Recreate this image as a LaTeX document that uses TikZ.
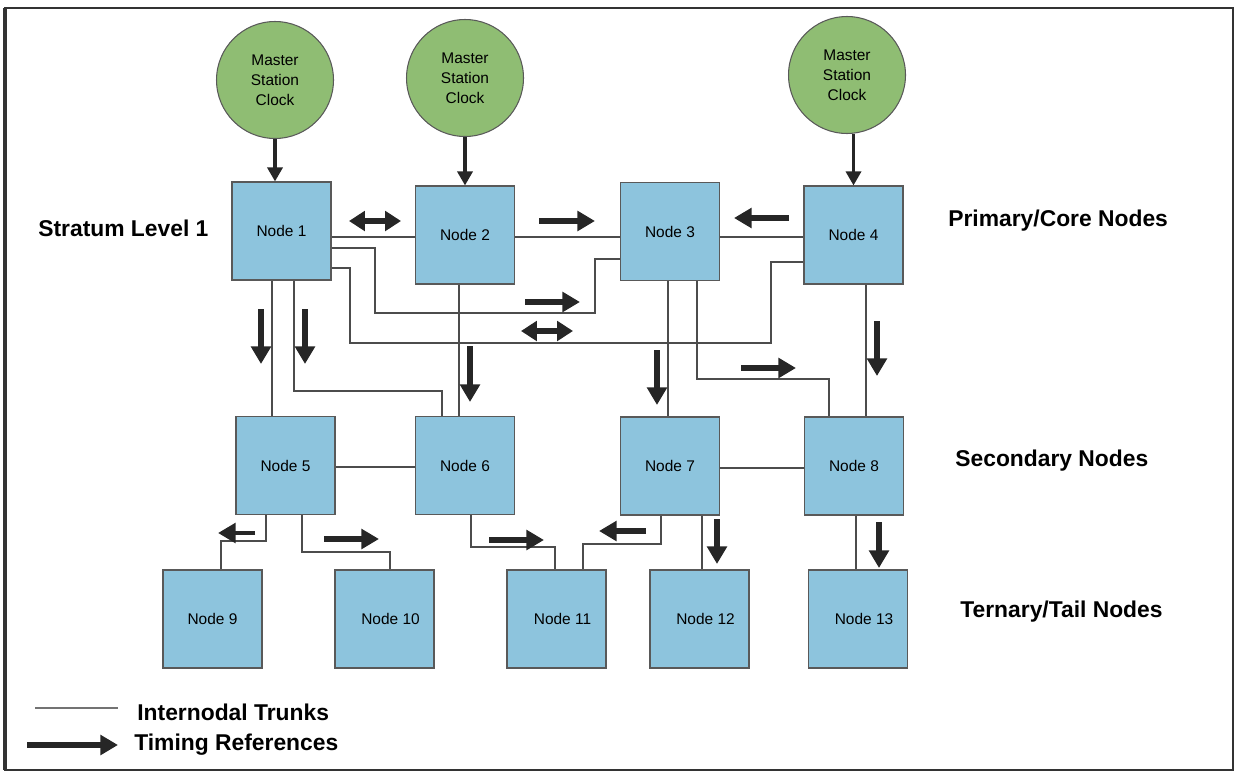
\documentclass[tikz,border=0pt]{standalone}
\usepackage{fontspec}
\setmainfont{Liberation Sans}
\usepackage{tikz}
\usetikzlibrary{arrows.meta}

\begin{document}
\begin{tikzpicture}[x=0.02cm,y=-0.02cm,
    box/.style={draw=black!65,line width=0.6pt,fill={rgb,255:red,141;green,196;blue,221},
      minimum width=1.98cm,minimum height=1.96cm,inner sep=0pt,font=\fontsize{8.8}{11}\selectfont},
    clock/.style={circle,draw=black!65,line width=0.6pt,fill={rgb,255:red,143;green,189;blue,115},
      minimum size=2.34cm,inner sep=0pt,align=center,font=\fontsize{8.8}{11.4}\selectfont},
    tier/.style={anchor=west,inner sep=0pt,font=\fontsize{13}{15}\bfseries},
    trunk/.style={draw=black!70,line width=0.6pt},
    timing/.style={line width=3pt,black!85,-{Triangle[length=10pt,width=11pt]}},
    bitiming/.style={line width=3pt,black!85,{Triangle[length=9pt,width=11pt]}-{Triangle[length=9pt,width=11pt]}},
    clockref/.style={line width=2pt,black!85,-{Triangle[length=8pt,width=8.5pt]}}]
    \useasboundingbox (0,0) rectangle (1236,774);
    \draw[line width=1.3pt,black!80] (5,8) rectangle (1233,770);
    \draw[line width=2.2pt,black!80] (5,8) -- (5,770);

	\node[clock] (c1) at (275,80) {Master\\Station\\Clock};
	\node[clock] (c2) at (465,78) {Master\\Station\\Clock};
	\node[clock] (c3) at (847,75) {Master\\Station\\Clock};

	\node[box] (n1) at (281.5,231) {Node 1};
	\node[box] (n2) at (465,235) {Node 2};
	\node[box] (n3) at (670,231.5) {Node 3};
	\node[box] (n4) at (853.5,235) {Node 4};

	\node[box] (n5) at (285.5,465.5) {Node 5};
	\node[box] (n6) at (465,465.5) {Node 6};
	\node[box] (n7) at (670,466) {Node 7};
	\node[box] (n8) at (854,466) {Node 8};

	\node[box] (n9) at (212.5,619) {Node 9};
	\node[box] (n10) at (384.5,619) {\hspace{0.24cm}Node 10};
	\node[box] (n11) at (556.5,619) {\hspace{0.24cm}Node 11};
	\node[box] (n12) at (699.5,619) {\hspace{0.24cm}Node 12};
	\node[box] (n13) at (858,619) {\hspace{0.24cm}Node 13};

	\node[tier] (s1) at (38,228) {Stratum Level 1};
	\node[tier] (t1) at (948,221) {Primary/Core Nodes};
	\node[tier] (t2) at (955,461) {Secondary Nodes};
	\node[tier] (t3) at (960,612) {Ternary/Tail Nodes};

  % internodal trunks
  \draw[trunk] (n1.east |- 0,237) -- (n2.west |- 0,237);
  \draw[trunk] (n2.east |- 0,237) -- (n3.west |- 0,237);
  \draw[trunk] (n3.east |- 0,237) -- (n4.west |- 0,237);
  \draw[trunk] (n1.east |- 0,248) -| (375,313) -| (595,259) -- (n3.west |- 0,259);
  \draw[trunk] (n1.east |- 0,268) -| (350,343) -| (771,262) -- (n4.west |- 0,262);
  \draw[trunk] (n1.south -| 272,0) -- (n5.north -| 272,0);
  \draw[trunk] (n1.south -| 294,0) |- (442,391) -- (n6.north -| 442,0);
  \draw[trunk] (n2.south -| 459,0) -- (n6.north -| 459,0);
  \draw[trunk] (n3.south -| 668,0) -- (n7.north -| 668,0);
  \draw[trunk] (n3.south -| 697,0) |- (829,379) -- (n8.north -| 829,0);
  \draw[trunk] (n4.south -| 866,0) -- (n8.north -| 866,0);
  \draw[trunk] (n5.east |- 0,467) -- (n6.west |- 0,467);
  \draw[trunk] (n7.east |- 0,468) -- (n8.west |- 0,468);
  \draw[trunk] (n5.south -| 266,0) |- (221,541) -- (n9.north -| 221,0);
  \draw[trunk] (n5.south -| 302,0) |- (390,552) -- (n10.north -| 390,0);
  \draw[trunk] (n6.south -| 471,0) |- (555,547) -- (n11.north -| 555,0);
  \draw[trunk] (n7.south -| 661,0) |- (583,544) -- (n11.north -| 583,0);
  \draw[trunk] (n7.south -| 702,0) -- (n12.north -| 702,0);
  \draw[trunk] (n8.south -| 856,0) -- (n13.north -| 856,0);

  % timing references
  \draw[clockref] (c1.south) -- (c1.south |- n1.north);
  \draw[clockref] (c2) -- (n2);
  \draw[clockref] (n4 |- c3.south) -- (n4.north);

  \draw[bitiming] (349,221) -- (401,221);
  \draw[timing] (539,221) -- (595,221);
  \draw[timing] (789,218) -- (734,218);
  \draw[timing] (525,302) -- (580,302);
  \draw[bitiming] (521,331) -- (573,331);
  \draw[timing] (261,309) -- (261,364);
  \draw[timing] (305,309) -- (305,364);
  \draw[timing] (470,346) -- (470,402);
  \draw[timing] (657,350) -- (657,405);
  \draw[timing] (741,368) -- (796,368);
  \draw[timing] (877,321) -- (877,376);
  \draw[timing,line width=2.5pt] (255,533) -- (218,533);
  \draw[timing] (324,539) -- (379,539);
  \draw[timing] (489,540) -- (544,540);
  \draw[timing] (646,531) -- (599,531);
  \draw[timing] (717,519) -- (717,564);
  \draw[timing] (879,522) -- (879,568);

  % legend
  \coordinate (la) at (35,708);
  \coordinate (lb) at (118,708);
  \coordinate (lc) at (27,745);
  \coordinate (ld) at (118,745);
  \draw[trunk,draw=black!55] (la) -- (lb);
  \draw[timing] (lc) -- (ld);
	\node[tier] (l1) at (137,712) {Internodal Trunks};
	\node[tier] (l2) at (134,745) {Timing References};
\end{tikzpicture}
\end{document}
